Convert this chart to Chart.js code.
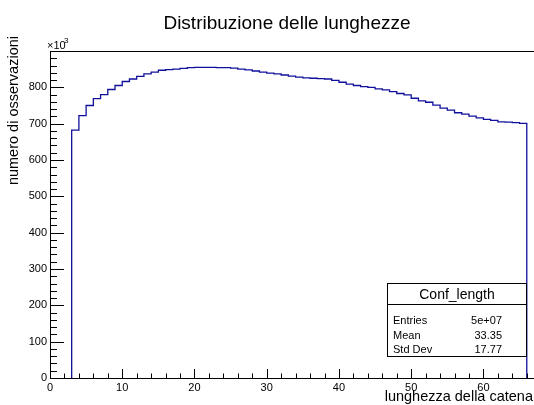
<!DOCTYPE html>
<html>
<head>
<meta charset="utf-8">
<title>Distribuzione delle lunghezze</title>
<script src="https://cdn.jsdelivr.net/npm/chart.js@4"></script>
<style>
  html, body { margin: 0; padding: 0; background: #fff; }
  canvas { display: block; }
</style>
</head>
<body>
<canvas id="lunghezze" width="534" height="405"></canvas>
<script>
// istogramma Conf_length: bin da 1, il primo parte da 3
const primoBin = 3
const larghezzaBin = 1
// conteggi per bin, in migliaia (asse y x10^3)
const conteggi = [
  682, 722, 750, 769, 780, 794, 805, 816, 823, 830,
  837, 842, 847, 849, 850, 852, 854, 855, 855, 855,
  854, 854, 853, 850, 848, 845, 842, 839, 837, 834,
  831, 828, 826, 825, 824, 823, 819, 814, 809, 805,
  802, 800, 796, 793, 788, 783, 779, 770, 763, 759,
  751, 743, 737, 730, 726, 721, 716, 712, 709, 705,
  704, 703, 701
]
const tickX = [0, 10, 20, 30, 40, 50, 60]
const tickY = [0, 100, 200, 300, 400, 500, 600, 700, 800]

// box statistiche
const statNomi = ['Entries', 'Mean', 'Std Dev']
const statValori = ['5e+07', '33.35', '17.77']
const nomeIsto = 'Conf_length'

// contorno a gradini: un punto sul bordo sinistro di ogni bin,
// con 'before' il tratto orizzontale resta al livello del bin
const punti = [{ x: primoBin, y: 0 }]
conteggi.forEach((c, i) => punti.push({ x: primoBin + i * larghezzaBin, y: c }))
punti.push({ x: primoBin + conteggi.length * larghezzaBin, y: 0 })

const FONT = 'Liberation Sans, Arial, sans-serif'

// tacche verso l'interno, cornice, titoli e box statistiche alla ROOT
const decorazioni = {
  id: 'decorazioni',
  afterDraw(chart) {
    const ctx = chart.ctx
    const { left, right, top, bottom } = chart.chartArea
    const sx = chart.scales.x
    const sy = chart.scales.y
    ctx.save()
    ctx.strokeStyle = '#000'
    ctx.lineWidth = 1

    // cornice superiore
    ctx.beginPath()
    ctx.moveTo(left, top + 0.5)
    ctx.lineTo(right, top + 0.5)
    ctx.stroke()

    // tacche asse y: principali ogni 100, secondarie ogni 20
    ctx.beginPath()
    for (let v = 0; v <= 900; v += 20) {
      const y = Math.round(sy.getPixelForValue(v)) + 0.5
      const len = v % 100 === 0 ? 14 : 7
      ctx.moveTo(left, y)
      ctx.lineTo(left + len, y)
    }
    // tacche asse x: principali ogni 10, secondarie ogni 2
    for (let v = 0; v <= sx.max; v += 2) {
      const x = Math.round(sx.getPixelForValue(v)) + 0.5
      const len = v % 10 === 0 ? 9 : 4.5
      ctx.moveTo(x, bottom)
      ctx.lineTo(x, bottom - len)
    }
    ctx.stroke()

    // titolo
    ctx.fillStyle = '#000'
    ctx.font = '19px ' + FONT
    ctx.textAlign = 'center'
    ctx.textBaseline = 'alphabetic'
    ctx.fillText('Distribuzione delle lunghezze', 287, 29)

    // moltiplicatore asse y
    ctx.font = '11px ' + FONT
    ctx.textAlign = 'left'
    ctx.fillText('\u00d710', 47, 49)
    ctx.font = '8px ' + FONT
    ctx.fillText('3', 64, 43)

    // titolo asse x
    ctx.font = '14.5px ' + FONT
    ctx.textAlign = 'right'
    ctx.fillText('lunghezza della catena', 533, 401)

    // titolo asse y
    ctx.save()
    ctx.translate(18, 36)
    ctx.rotate(-Math.PI / 2)
    ctx.textAlign = 'right'
    ctx.fillText('numero di osservazioni', 0, 0)
    ctx.restore()

    // box statistiche
    const bx = 387.5, by = 283.5, bw = 139, bh = 73
    ctx.fillStyle = '#fff'
    ctx.fillRect(bx, by, bw, bh)
    ctx.strokeRect(bx, by, bw, bh)
    ctx.beginPath()
    ctx.moveTo(bx, 304.5)
    ctx.lineTo(bx + bw, 304.5)
    ctx.stroke()
    ctx.fillStyle = '#000'
    ctx.font = '14px ' + FONT
    ctx.textAlign = 'center'
    ctx.fillText(nomeIsto, bx + bw / 2, 299)
    ctx.font = '11px ' + FONT
    statNomi.forEach((n, i) => {
      const yy = 324 + i * 14.5
      ctx.textAlign = 'left'
      ctx.fillText(n, 393, yy)
      ctx.textAlign = 'right'
      ctx.fillText(statValori[i], 502, yy)
    })
    ctx.restore()
  }
}

new Chart(document.getElementById('lunghezze'), {
  type: 'line',
  data: {
    datasets: [{
      data: punti,
      stepped: 'before',
      borderColor: '#10109c',
      borderWidth: 1.3,
      pointRadius: 0,
      fill: false
    }]
  },
  options: {
    responsive: false,
    animation: false,
    devicePixelRatio: 1,
    layout: { padding: { left: 0, right: 0, top: 51, bottom: 0 } },
    plugins: {
      legend: { display: false },
      tooltip: { enabled: false },
      title: { display: false }
    },
    scales: {
      x: {
        type: 'linear',
        min: 0,
        max: 67,
        afterFit: (scale) => { scale.height = 27 },
        afterBuildTicks: (scale) => { scale.ticks = tickX.map(v => ({ value: v })) },
        grid: { display: false, drawTicks: false },
        border: { display: true, color: '#000', width: 1 },
        ticks: {
          color: '#000',
          font: { family: FONT, size: 11 },
          padding: 3,
          maxRotation: 0,
          autoSkip: false
        }
      },
      y: {
        min: 0,
        max: 900,
        afterFit: (scale) => { scale.width = 50 },
        afterBuildTicks: (scale) => { scale.ticks = tickY.map(v => ({ value: v })) },
        grid: { display: false, drawTicks: false },
        border: { display: true, color: '#000', width: 1 },
        ticks: {
          color: '#000',
          font: { family: FONT, size: 11 },
          padding: 3,
          autoSkip: false
        }
      }
    }
  },
  plugins: [decorazioni]
})
</script>
</body>
</html>
